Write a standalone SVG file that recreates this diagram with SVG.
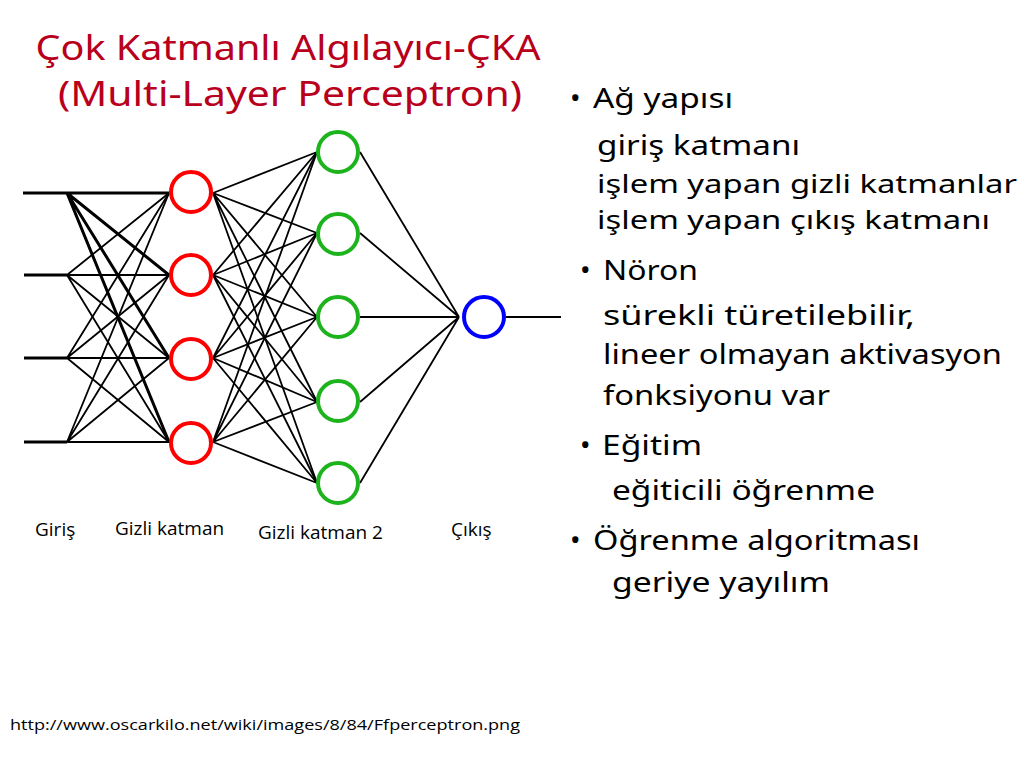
<svg xmlns="http://www.w3.org/2000/svg" width="1024" height="768" viewBox="0 0 1024 768">
<style>
.title{font-family:"Noto Sans","DejaVu Sans",sans-serif;font-size:34px;fill:#B8001C;text-anchor:middle}
.body{font-family:"Noto Sans","DejaVu Sans",sans-serif;font-size:28px;fill:#000}
.tight{font-size:26px}
.lbl{font-family:"Open Sans","Noto Sans",sans-serif;font-size:19px;fill:#000}
.url{font-family:"Open Sans","Noto Sans",sans-serif;font-size:15px;fill:#000}
.w{stroke:#000;stroke-width:1.8;fill:none}
.wt{stroke:#000;stroke-width:3;fill:none}
.n{fill:#fff;stroke-width:4}
</style>
<rect width="1024" height="768" fill="#fff"/>
<g id="title">
<text class="title" x="288" y="60" textLength="505" lengthAdjust="spacingAndGlyphs">Çok Katmanlı Algılayıcı-ÇKA</text>
<text class="title" x="290" y="106" textLength="464" lengthAdjust="spacingAndGlyphs">(Multi-Layer Perceptron)</text>
</g>
<g id="connectors">
<path class="wt" d="M23 193H67M24 275H67M24 358H67M24 442H67"/>
<path class="wt" d="M67 193L169 193M67 193L169 275M67 193L169 358M67 193L169 442"/>
<path class="w" d="M67 275L169 193M67 275L169 275M67 275L169 358M67 275L169 442"/>
<path class="w" d="M67 358L169 193M67 358L169 275M67 358L169 358M67 358L169 442"/>
<path class="w" d="M67 442L169 193M67 442L169 275M67 442L169 358M67 442L169 442"/>
<path class="w" d="M213 193L317 152M213 193L317 233M213 193L317 317M213 193L317 402M213 193L317 483"/>
<path class="w" d="M213 275L317 152M213 275L317 233M213 275L317 317M213 275L317 402M213 275L317 483"/>
<path class="w" d="M213 358L317 152M213 358L317 233M213 358L317 317M213 358L317 402M213 358L317 483"/>
<path class="w" d="M213 442L317 152M213 442L317 233M213 442L317 317M213 442L317 402M213 442L317 483"/>
<path class="w" d="M360 152L459 317M360 233L459 317M360 317L459 317M360 402L459 317M360 483L459 317"/>
<path class="w" d="M506 317H561"/>
</g>
<g id="hidden1">
<circle class="n" cx="191" cy="192" r="20" stroke="#F00"/>
<circle class="n" cx="191" cy="275" r="20" stroke="#F00"/>
<circle class="n" cx="191" cy="359" r="20" stroke="#F00"/>
<circle class="n" cx="191" cy="443" r="20" stroke="#F00"/>
</g>
<g id="hidden2">
<circle class="n" cx="338" cy="152" r="20" stroke="#1DB31D"/>
<circle class="n" cx="338" cy="234" r="20" stroke="#1DB31D"/>
<circle class="n" cx="338" cy="317" r="20" stroke="#1DB31D"/>
<circle class="n" cx="338" cy="401" r="20" stroke="#1DB31D"/>
<circle class="n" cx="338" cy="483" r="20" stroke="#1DB31D"/>
</g>
<g id="output">
<circle class="n" cx="484" cy="317" r="20" stroke="#00F"/>
</g>
<g id="labels">
<text class="lbl" x="35" y="536">Giriş</text>
<text class="lbl" x="115" y="535">Gizli katman</text>
<text class="lbl" x="258" y="539">Gizli katman 2</text>
<text class="lbl" x="451" y="536">Çıkış</text>
</g>
<g id="bullets">
<text class="body" x="570" y="108">•</text>
<text class="body" x="593" y="108" textLength="140" lengthAdjust="spacingAndGlyphs">Ağ yapısı</text>
<text class="body" x="597" y="155" textLength="203" lengthAdjust="spacingAndGlyphs">giriş katmanı</text>
<text class="body tight" x="597" y="193" textLength="420" lengthAdjust="spacingAndGlyphs">işlem yapan gizli katmanlar</text>
<text class="body tight" x="597" y="229" textLength="393" lengthAdjust="spacingAndGlyphs">işlem yapan çıkış katmanı</text>
<text class="body" x="580" y="280">•</text>
<text class="body" x="603" y="280" textLength="95" lengthAdjust="spacingAndGlyphs">Nöron</text>
<text class="body" x="603" y="325" textLength="312" lengthAdjust="spacingAndGlyphs">sürekli türetilebilir,</text>
<text class="body" x="603" y="364" textLength="399" lengthAdjust="spacingAndGlyphs">lineer olmayan aktivasyon</text>
<text class="body" x="603" y="405" textLength="227" lengthAdjust="spacingAndGlyphs">fonksiyonu var</text>
<text class="body" x="580" y="455">•</text>
<text class="body" x="602" y="455" textLength="100" lengthAdjust="spacingAndGlyphs">Eğitim</text>
<text class="body" x="612" y="500" textLength="263" lengthAdjust="spacingAndGlyphs">eğiticili öğrenme</text>
<text class="body" x="570" y="550">•</text>
<text class="body" x="593" y="550" textLength="327" lengthAdjust="spacingAndGlyphs">Öğrenme algoritması</text>
<text class="body" x="612" y="592" textLength="218" lengthAdjust="spacingAndGlyphs">geriye yayılım</text>
</g>
<g id="source">
<text class="url" x="10" y="730" textLength="510" lengthAdjust="spacingAndGlyphs">http://www.oscarkilo.net/wiki/images/8/84/Ffperceptron.png</text>
</g>
</svg>
